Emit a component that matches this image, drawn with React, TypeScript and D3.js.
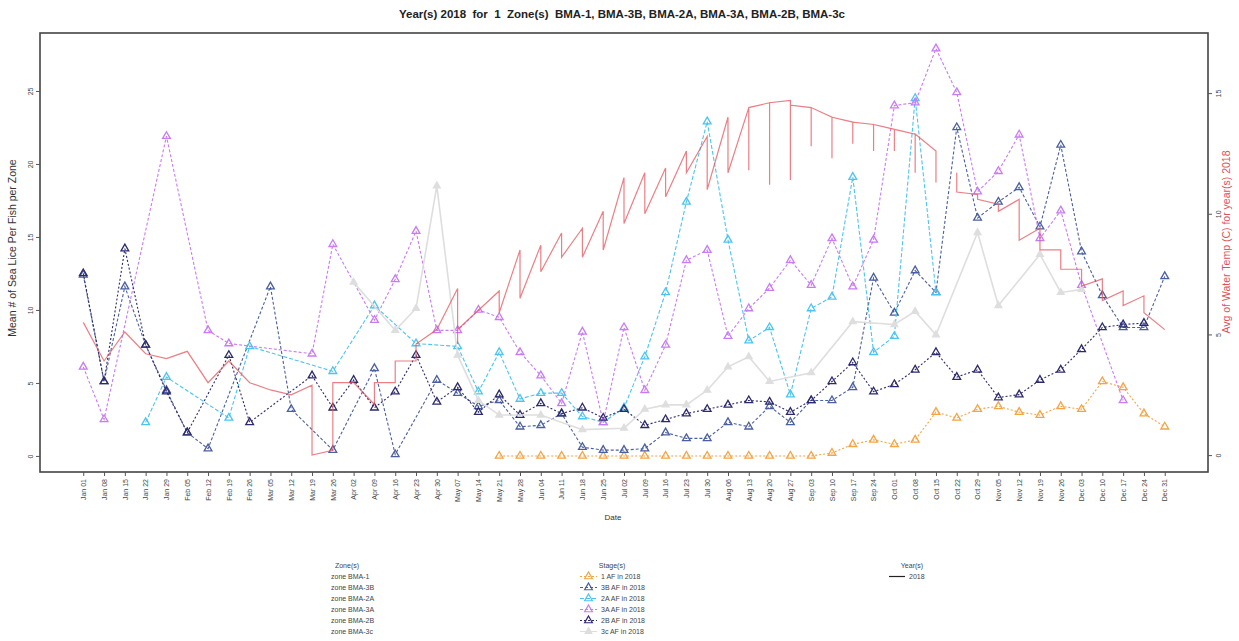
import React, { useEffect, useRef } from 'react'
import * as d3 from 'd3'

// weekly sample dates (2018)
const dates = [
  'Jan 01', 'Jan 08', 'Jan 15', 'Jan 22', 'Jan 29', 'Feb 05', 'Feb 12', 'Feb 19', 'Feb 26',
  'Mar 05', 'Mar 12', 'Mar 19', 'Mar 26', 'Apr 02', 'Apr 09', 'Apr 16', 'Apr 23', 'Apr 30',
  'May 07', 'May 14', 'May 21', 'May 28', 'Jun 04', 'Jun 11', 'Jun 18', 'Jun 25', 'Jul 02',
  'Jul 09', 'Jul 16', 'Jul 23', 'Jul 30', 'Aug 06', 'Aug 13', 'Aug 20', 'Aug 27', 'Sep 03',
  'Sep 10', 'Sep 17', 'Sep 24', 'Oct 01', 'Oct 08', 'Oct 15', 'Oct 22', 'Oct 29', 'Nov 05',
  'Nov 12', 'Nov 19', 'Nov 26', 'Dec 03', 'Dec 10', 'Dec 17', 'Dec 24', 'Dec 31',
]

const _ = null

// mean sea lice per fish, one value per date (null = not sampled)
const af1 = [
  _, _, _, _, _, _, _, _, _, _, _, _, _, _, _, _, _, _, _, _,
  0, 0, 0, 0, 0, 0, 0, 0, 0, 0, 0, 0, 0, 0, 0, 0,
  0.2, 0.8, 1.1, 0.8, 1.1, 3.0, 2.6, 3.2, 3.4, 3.0, 2.8, 3.4, 3.2, 5.1, 4.7, 2.9, 2.0,
]
const af3B = [
  12.4, 5.1, 11.6, 7.6, 4.5, 1.6, 0.5, _, _, 11.6, 3.2, _, 0.4, _, 6.0, 0.1, _, 5.2,
  4.3, 3.4, 3.8, 2.0, 2.1, 2.9, 0.6, 0.4, 0.4, 0.5, 1.6, 1.2, 1.2, 2.3, 2.0, 3.4, 2.3,
  3.8, 3.8, 4.7, 12.2, 9.8, 12.7, 11.2, 22.5, 16.3, 17.4, 18.4, 15.7, 21.3, 14.0, 11.0,
  8.8, 8.8, 12.3,
]
const af2A = [
  _, _, _, 2.3, 5.4, _, _, 2.6, 7.5, _, _, _, 5.8, _, 10.3, _, 7.7, _,
  7.5, 4.4, 7.1, 3.9, 4.3, 4.3, 2.7, 2.3, 3.3, 6.8, 11.2, 17.4, 22.9, 14.8, 7.9, 8.8, 4.2,
  10.1, 10.9, 19.1, 7.1, 8.2, 24.5, 11.2, _, _, _, _, _, _, _, _,
  _, _, _,
]
const af3A = [
  6.1, 2.5, _, _, 21.9, _, 8.6, 7.7, _, _, _, 7.0, 14.5, _, 9.3, 12.1, 15.4, 8.6,
  8.6, 10.0, 9.5, 7.1, 5.5, 3.6, 8.5, 2.3, 8.8, 4.5, 7.6, 13.4, 14.1, 8.2, 10.1, 11.5, 13.4,
  11.7, 14.9, 11.6, 14.8, 24.0, 24.2, 27.9, 24.9, 18.1, 19.5, 22.0, 14.9, 16.8, 11.7, _,
  3.8, _, _,
]
const af2B = [
  12.5, 5.1, 14.2, 7.6, 4.4, 1.6, _, 6.9, 2.3, _, _, 5.5, 3.3, 5.2, 3.3, 4.4, 6.9, 3.7,
  4.7, 3.0, 4.2, 2.8, 3.6, 2.9, 3.3, 2.6, 3.2, 2.1, 2.5, 2.9, 3.2, 3.5, 3.8, 3.7, 3.0,
  3.8, 5.1, 6.4, 4.4, 4.9, 5.9, 7.1, 5.4, 5.9, 4.0, 4.2, 5.2, 5.9, 7.3, 8.8,
  9.0, 9.1, _,
]
const af3c = [
  _, _, _, _, _, _, _, _, _, _, _, _, _, 11.9, _, 8.6, 10.1, 18.5,
  6.9, 3.8, 2.8, _, 2.8, _, 1.8, _, 1.9, 3.2, 3.5, 3.5, 4.5, 6.1, 6.8, 5.1, _,
  5.7, _, 9.2, _, 9.0, 9.9, 8.3, _, 15.3, 10.3, _, 13.8, 11.2, 11.4, _,
  _, _, _,
]

// water temperature (C): readings at each date, visited first -> mid -> last
const tempFirst = [
  5.5, 3.9, 5.1, 4.2, 4.0, 4.3, 3.0, 3.9, 3.0, 2.7, 2.5, 2.9, 0.2, 3.0, 2.1, 3.0, 3.9, 5.2,
  6.9, 6.0, 6.8, 8.5, 8.7, 9.2, 9.4, 10.1, 11.5, 11.7, 11.9, 12.6, 13.2, 14.0, 14.4, 14.6, 14.7,
  14.4, 14.0, 13.8, 13.7, 13.5, 13.3, 12.6, 11.7, 10.8, 10.4, 10.6, 9.4, 8.5, 7.7, 7.3,
  6.8, 6.6, 5.2,
]
const tempMid = [
  5.5, 3.9, 5.1, 4.2, 4.0, 4.3, 3.0, 3.9, 3.0, 2.7, 2.5, 0.0, 0.2, 3.0, 2.1, 3.0, 3.9, 5.2,
  4.6, 6.0, 5.9, 6.5, 7.6, 8.2, 8.2, 8.5, 9.6, 10.0, 10.7, 11.7, 11.0, 11.7, 11.8, 11.2, 11.4,
  12.8, 12.3, 12.9, 12.6, 12.6, 11.7, 11.3, 10.9, 10.6, 10.1, 8.9, 8.5, 7.7, 7.0, 6.4,
  6.2, 5.9, 5.2,
]
const tempLast = [
  5.5, 3.9, 5.1, 4.2, 4.0, 4.3, 3.0, 3.9, 3.0, 2.7, 2.5, 0.0, 3.0, 3.0, 3.0, 3.9, 4.6, 5.2,
  5.2, 6.0, 5.9, 6.5, 7.6, 8.2, 8.2, 8.5, 9.6, 10.0, 10.7, 11.7, 11.0, 11.7, 14.4, 14.6, 14.5,
  14.4, 14.0, 13.8, 13.7, 13.5, 13.3, 11.3, 10.9, 10.6, 10.1, 8.9, 8.5, 7.7, 7.0, 6.4,
  6.2, 5.9, 5.2,
]
const tempGapAfter = 'Oct 15'

const zones = ['zone BMA-1', 'zone BMA-3B', 'zone BMA-2A', 'zone BMA-3A', 'zone BMA-2B', 'zone BMA-3c']
const stageNames = ['1 AF in 2018', '3B AF in 2018', '2A AF in 2018', '3A AF in 2018', '2B AF in 2018', '3c AF in 2018']
const leftTicks = [0, 5, 10, 15, 20, 25]
const rightTicks = [0, 5, 10, 15]

const stages = [
  { name: stageNames[0], values: af1, color: '#F4A443', dash: '2,2', filled: false, size: 26 },
  { name: stageNames[1], values: af3B, color: '#4A5F9E', dash: '3,2', filled: false, size: 26 },
  { name: stageNames[2], values: af2A, color: '#4CC4F0', dash: '4,2', filled: false, size: 26 },
  { name: stageNames[3], values: af3A, color: '#C97BF2', dash: '3,2', filled: false, size: 26 },
  { name: stageNames[4], values: af2B, color: '#2C2A6C', dash: '2,2', filled: false, size: 26 },
  { name: stageNames[5], values: af3c, color: '#DEDEDE', dash: null, filled: true, size: 20 },
]

const FONT = '"Liberation Sans", Arial, sans-serif'

export default function App() {
  const svgRef = useRef<SVGSVGElement>(null)

  useEffect(() => {
    if (!svgRef.current) return
    const svg = d3.select(svgRef.current)
    svg.selectAll('*').remove()

    const left = 40
    const right = 1208
    const top = 33
    const bottom = 472

    const x = d3.scalePoint<string>().domain(dates).range([left, right]).padding(2.08)
    const y = d3.scaleLinear().domain([-1.1, 28.97]).range([bottom, top])
    const yT = d3.scaleLinear().domain([-0.7, 17.49]).range([bottom, top])

    // title
    svg
      .append('text')
      .attr('x', 622)
      .attr('y', 18)
      .attr('text-anchor', 'middle')
      .style('font-family', FONT)
      .style('font-size', '11.5px')
      .style('font-weight', '700')
      .style('white-space', 'pre')
      .attr('fill', '#222')
      .text('Year(s) 2018  for  1  Zone(s)  BMA-1, BMA-3B, BMA-2A, BMA-3A, BMA-2B, BMA-3c')

    // stage series
    stages.forEach((s) => {
      const tri = d3.symbol().type(d3.symbolTriangle).size(s.size)
      const pts = dates
        .map((d, i) => ({ d, v: s.values[i] }))
        .filter((p) => p.v !== null) as { d: string; v: number }[]
      const line = d3
        .line<{ d: string; v: number }>()
        .x((p) => x(p.d) as number)
        .y((p) => y(p.v))
      svg
        .append('path')
        .attr('d', line(pts) || '')
        .attr('fill', 'none')
        .attr('stroke', s.color)
        .attr('stroke-width', s.filled ? 1.6 : 1.1)
        .attr('stroke-dasharray', s.dash)
      svg
        .append('g')
        .selectAll('path')
        .data(pts)
        .join('path')
        .attr('d', tri)
        .attr('transform', (p) => `translate(${x(p.d)},${y(p.v)})`)
        .attr('fill', s.filled ? s.color : 'none')
        .attr('stroke', s.color)
        .attr('stroke-width', 1.3)
    })

    // water temperature
    type TP = { d: string; t: number; gap?: boolean }
    const tpts: TP[] = []
    dates.forEach((d, i) => {
      tpts.push({ d, t: tempFirst[i] }, { d, t: tempMid[i] }, { d, t: tempLast[i] })
      if (d === tempGapAfter) tpts.push({ d, t: 0, gap: true })
    })
    const tline = d3
      .line<TP>()
      .defined((p) => !p.gap)
      .x((p) => x(p.d) as number)
      .y((p) => yT(p.t))
    svg
      .append('path')
      .attr('d', tline(tpts) || '')
      .attr('fill', 'none')
      .attr('stroke', '#E4545C')
      .attr('stroke-opacity', 0.75)
      .attr('stroke-width', 1.2)

    // frame
    svg
      .append('rect')
      .attr('x', left)
      .attr('y', top)
      .attr('width', right - left)
      .attr('height', bottom - top)
      .attr('fill', 'none')
      .attr('stroke', '#444')
      .attr('stroke-width', 1.6)

    // x axis
    const gx = svg
      .append('g')
      .attr('transform', `translate(0,${bottom})`)
      .call(d3.axisBottom(x).tickSize(4))
    gx.select('.domain').remove()
    gx.selectAll('line').attr('stroke', '#555')
    gx.selectAll('text')
      .attr('x', -7)
      .attr('y', 0)
      .attr('dy', '0.32em')
      .attr('transform', 'rotate(-90)')
      .attr('text-anchor', 'end')
      .style('font-family', FONT)
      .style('font-size', '7px')
      .attr('fill', '#444')

    // left axis
    const gy = svg
      .append('g')
      .attr('transform', `translate(${left},0)`)
      .call(d3.axisLeft(y).tickValues(leftTicks).tickSize(4))
    gy.select('.domain').remove()
    gy.selectAll('line').attr('stroke', '#555')
    gy.selectAll('text')
      .attr('x', 0)
      .attr('y', -7)
      .attr('dy', 0)
      .attr('transform', 'rotate(-90)')
      .attr('text-anchor', 'middle')
      .style('font-family', FONT)
      .style('font-size', '7px')
      .attr('fill', '#444')

    // right axis
    const gr = svg
      .append('g')
      .attr('transform', `translate(${right},0)`)
      .call(d3.axisRight(yT).tickValues(rightTicks).tickSize(4))
    gr.select('.domain').remove()
    gr.selectAll('line').attr('stroke', '#555')
    gr.selectAll('text')
      .attr('x', 0)
      .attr('y', 13)
      .attr('dy', 0)
      .attr('transform', 'rotate(-90)')
      .attr('text-anchor', 'middle')
      .style('font-family', FONT)
      .style('font-size', '7px')
      .attr('fill', '#444')

    // axis titles
    svg
      .append('text')
      .attr('transform', 'translate(16,248) rotate(-90)')
      .attr('text-anchor', 'middle')
      .style('font-family', FONT)
      .style('font-size', '10.5px')
      .attr('fill', '#333')
      .text('Mean # of Sea Lice Per Fish per Zone')

    svg
      .append('text')
      .attr('transform', 'translate(1230,242) rotate(-90)')
      .attr('text-anchor', 'middle')
      .style('font-family', FONT)
      .style('font-size', '10.5px')
      .attr('fill', '#E0505A')
      .text('Avg of Water Temp (C) for year(s) 2018')

    svg
      .append('text')
      .attr('x', 613)
      .attr('y', 520)
      .attr('text-anchor', 'middle')
      .style('font-family', FONT)
      .style('font-size', '8px')
      .attr('fill', '#333')
      .text('Date')

    // legends
    const lg = svg.append('g').style('font-family', FONT).style('font-size', '7px').attr('fill', '#444')
    const rowY = (i: number) => 579 + i * 11

    lg.append('text').attr('x', 347).attr('y', 568).attr('text-anchor', 'middle').text('Zone(s)')
    lg.selectAll('.zone')
      .data(zones)
      .join('text')
      .attr('class', 'zone')
      .attr('x', 331)
      .attr('y', (_d, i) => rowY(i))
      .text((d) => d)

    lg.append('text').attr('x', 612).attr('y', 568).attr('text-anchor', 'middle').text('Stage(s)')
    stages.forEach((s, i) => {
      const cy = rowY(i) - 2.5
      const tri = d3.symbol().type(d3.symbolTriangle).size(s.size)
      lg.append('line')
        .attr('x1', 580)
        .attr('x2', 597)
        .attr('y1', cy)
        .attr('y2', cy)
        .attr('stroke', s.color)
        .attr('stroke-width', 1)
        .attr('stroke-dasharray', s.dash)
      lg.append('path')
        .attr('d', tri)
        .attr('transform', `translate(588.5,${cy})`)
        .attr('fill', s.filled ? s.color : 'none')
        .attr('stroke', s.color)
        .attr('stroke-width', 1.2)
      lg.append('text').attr('x', 601).attr('y', rowY(i)).text(s.name)
    })

    lg.append('text').attr('x', 912).attr('y', 568).attr('text-anchor', 'middle').text('Year(s)')
    lg.append('line')
      .attr('x1', 889)
      .attr('x2', 905)
      .attr('y1', rowY(0) - 2.5)
      .attr('y2', rowY(0) - 2.5)
      .attr('stroke', '#222')
      .attr('stroke-width', 1.2)
    lg.append('text').attr('x', 909).attr('y', rowY(0)).text('2018')
  }, [])

  return (
    <div style={{ position: 'absolute', left: 0, top: 0 }}>
      <svg ref={svgRef} width={1239} height={641} style={{ display: 'block', background: '#fff' }} />
    </div>
  )
}
